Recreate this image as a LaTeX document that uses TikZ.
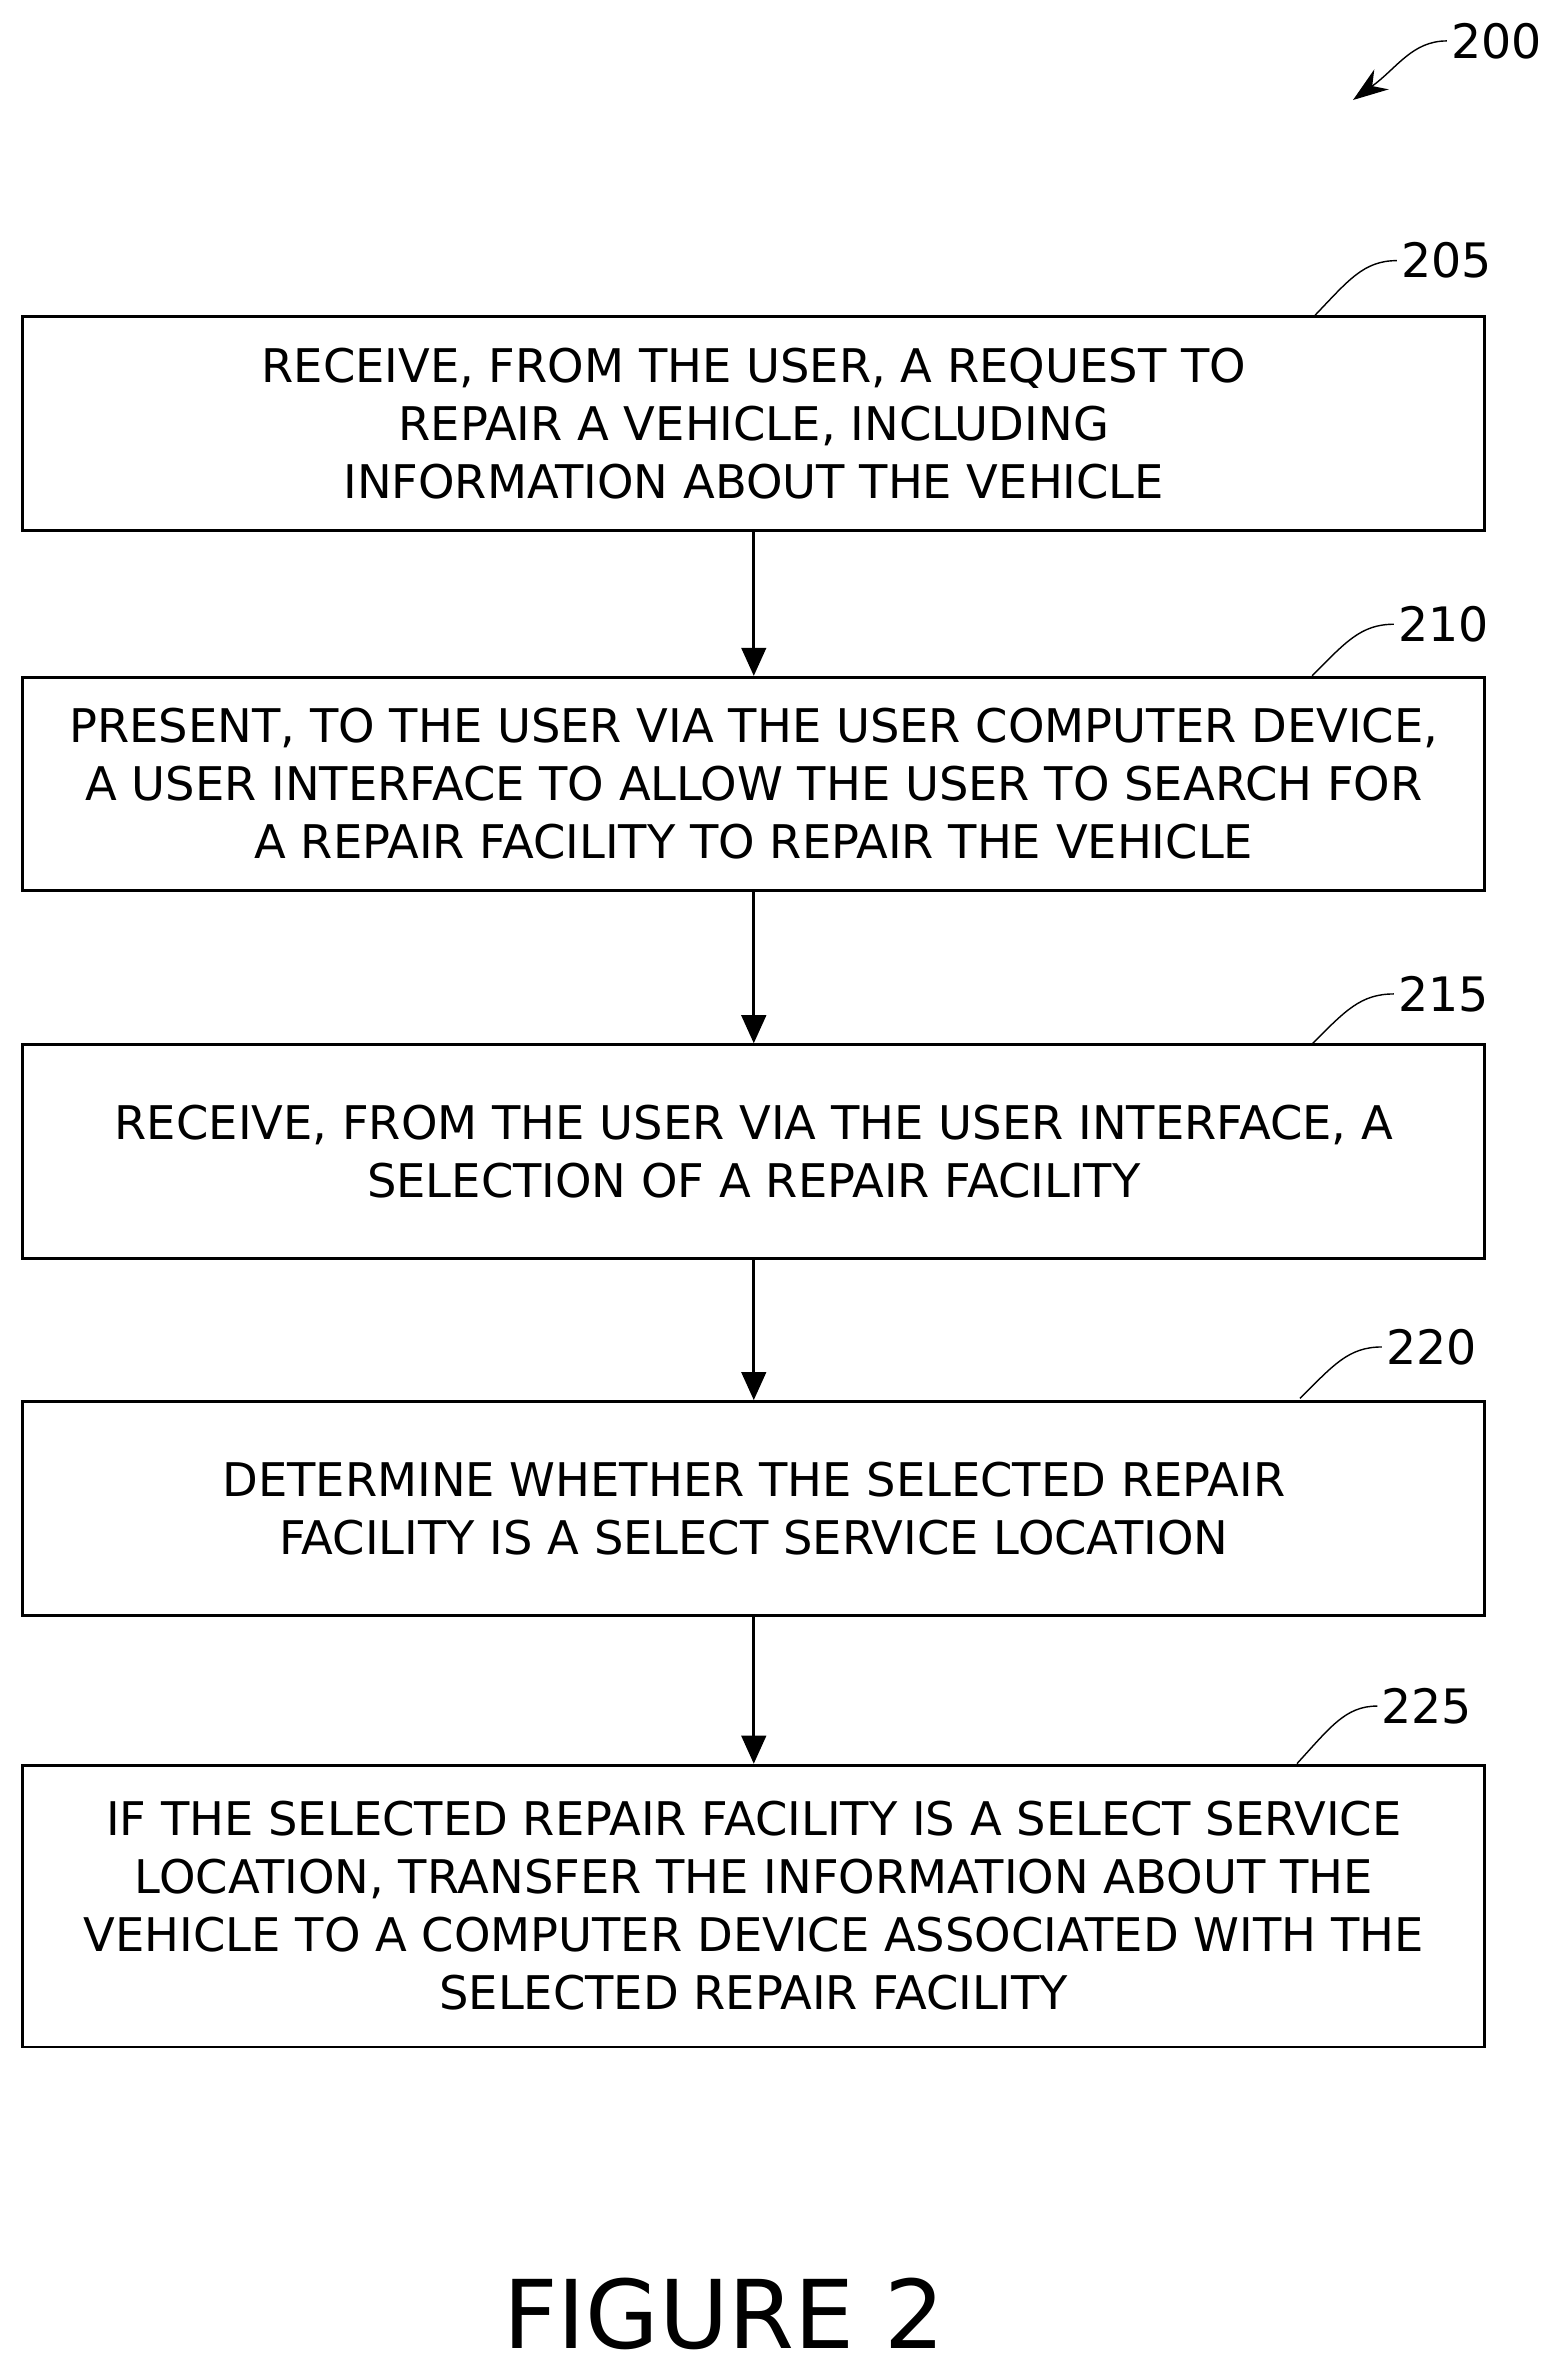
\documentclass[tikz,border=0pt]{standalone}
\usepackage{fontspec}
\setmainfont{DejaVu Sans}
\usetikzlibrary{positioning,arrows.meta}
\tikzset{
  procbox/.style={draw, thick, minimum width=14.62cm, minimum height=2.136cm, align=center,
    font=\fontsize{13.2}{16.5}\selectfont, inner sep=0pt},
  flow/.style={thick, -{Triangle[length=8pt,width=7pt]}},
  lead/.style={thin},
  refnum/.style={font=\fontsize{13.5}{15}\selectfont, anchor=west, inner sep=1pt}
}
\begin{document}
\begin{tikzpicture}[x=0.01515cm, y=-0.01515cm]
\useasboundingbox (0,0) rectangle (1024,1553);
%steps
\node[procbox] (s205) at (497.5,279.5) {RECEIVE, FROM THE USER, A REQUEST TO\\REPAIR A VEHICLE, INCLUDING\\INFORMATION ABOUT THE VEHICLE};
\node[procbox] (s210) at (497.5,517.5) {PRESENT, TO THE USER VIA THE USER COMPUTER DEVICE,\\A USER INTERFACE TO ALLOW THE USER TO SEARCH FOR\\A REPAIR FACILITY TO REPAIR THE VEHICLE};
\node[procbox] (s215) at (497.5,760) {RECEIVE, FROM THE USER VIA THE USER INTERFACE, A\\SELECTION OF A REPAIR FACILITY};
\node[procbox] (s220) at (497.5,995.5) {DETERMINE WHETHER THE SELECTED REPAIR\\FACILITY IS A SELECT SERVICE LOCATION};
\node[procbox, minimum height=2.818cm] (s225) at (497.5,1258) {IF THE SELECTED REPAIR FACILITY IS A SELECT SERVICE\\LOCATION, TRANSFER THE INFORMATION ABOUT THE\\VEHICLE TO A COMPUTER DEVICE ASSOCIATED WITH THE\\SELECTED REPAIR FACILITY};

\draw[flow] (s205) -- (s210);
\draw[flow] (s210) -- (s215);
\draw[flow] (s215) -- (s220);
\draw[flow] (s220) -- (s225);

%reference numerals
\node[refnum] (n205) at (922,172) {205};
\node[refnum] (n210) at (920,412) {210};
\node[refnum] (n215) at (920,656) {215};
\node[refnum] (n220) at (912,889) {220};
\node[refnum] (n225) at (909,1126) {225};
\node[refnum] (n200) at (955,27) {200};
\draw[lead] (868,208) .. controls (890,185) and (900,172) .. (n205.west);
\draw[lead] (866,446) .. controls (888,424) and (898,412) .. (n210.west);
\draw[lead] (866,689) .. controls (888,667) and (898,656) .. (n215.west);
\draw[lead] (858,923) .. controls (880,901) and (890,889) .. (n220.west);
\draw[lead] (856,1164) .. controls (878,1140) and (888,1126) .. (n225.west);
\draw[lead, -{Stealth[length=10pt,width=7pt]}] (n200.west) .. controls (932,27) and (922,45) .. (893,66);

\node[font=\fontsize{27}{32}\selectfont] (fig) at (478,1527) {FIGURE 2};
\end{tikzpicture}
\end{document}
